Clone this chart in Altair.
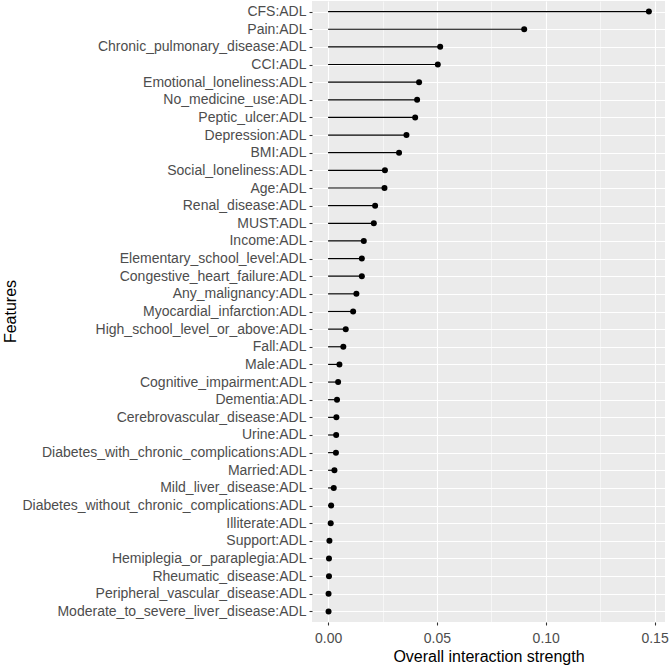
import altair as alt
import pandas as pd

features = [
    "CFS:ADL", "Pain:ADL", "Chronic_pulmonary_disease:ADL", "CCI:ADL",
    "Emotional_loneliness:ADL", "No_medicine_use:ADL", "Peptic_ulcer:ADL",
    "Depression:ADL", "BMI:ADL", "Social_loneliness:ADL", "Age:ADL",
    "Renal_disease:ADL", "MUST:ADL", "Income:ADL", "Elementary_school_level:ADL",
    "Congestive_heart_failure:ADL", "Any_malignancy:ADL", "Myocardial_infarction:ADL",
    "High_school_level_or_above:ADL", "Fall:ADL", "Male:ADL",
    "Cognitive_impairment:ADL", "Dementia:ADL", "Cerebrovascular_disease:ADL",
    "Urine:ADL", "Diabetes_with_chronic_complications:ADL", "Married:ADL",
    "Mild_liver_disease:ADL", "Diabetes_without_chronic_complications:ADL",
    "Illiterate:ADL", "Support:ADL", "Hemiplegia_or_paraplegia:ADL",
    "Rheumatic_disease:ADL", "Peripheral_vascular_disease:ADL",
    "Moderate_to_severe_liver_disease:ADL",
]
strength = [
    0.1474, 0.0901, 0.0515, 0.0504, 0.0418, 0.0409, 0.0400, 0.0360, 0.0326,
    0.0261, 0.0259, 0.0216, 0.0210, 0.0164, 0.0155, 0.0155, 0.0130, 0.0115,
    0.0081, 0.0070, 0.0052, 0.0046, 0.0041, 0.0038, 0.0037, 0.0036, 0.0029,
    0.0026, 0.0014, 0.0012, 0.0006, 0.0004, 0.0004, 0.0002, 0.0002,
]
major_ticks = [0.0, 0.05, 0.10, 0.15]
minor_ticks = [0.025, 0.075, 0.125]

df = pd.DataFrame({"Features": features, "value": strength})

FONT = "Liberation Sans"
x_scale = alt.Scale(domain=[-0.0074, 0.1548], nice=False, zero=False)
y_scale = alt.Scale(type="point", padding=0.6)

y_axis = alt.Axis(title="Features", grid=True, gridColor="white",
                  gridWidth=1.1, domain=False, tickColor="#333333",
                  tickSize=3, tickWidth=1.1, labelPadding=3,
                  labelLimit=400,
                  labelFont=FONT, labelFontSize=14,
                  labelColor="#4D4D4D", titleFont=FONT,
                  titleFontSize=16, titleFontWeight="normal",
                  titleColor="black", titleX=-302, titleY=310,
                  titleAngle=270, titleAlign="center",
                  titleBaseline="middle")

base = alt.Chart(df)

minor = base.mark_point(opacity=0).encode(
    y=alt.Y("Features:N", sort=features, scale=y_scale, axis=y_axis),
    x=alt.X("value:Q", scale=x_scale,
            axis=alt.Axis(orient="top", values=minor_ticks, labels=False,
                          ticks=False, domain=False, title=None,
                          grid=True, gridColor="white", gridWidth=0.55)),
)

stems = base.transform_calculate(zero="0").mark_rule(
    color="black", strokeWidth=1.2
).encode(
    y=alt.Y("Features:N", sort=features, scale=y_scale, axis=y_axis),
    x=alt.X("zero:Q", scale=x_scale, axis=None),
    x2="value:Q",
)

dots = base.mark_circle(color="black", size=36, opacity=1).encode(
    y=alt.Y("Features:N", sort=features, scale=y_scale, axis=y_axis),
    x=alt.X("value:Q", scale=x_scale,
            axis=alt.Axis(title="Overall interaction strength",
                          values=major_ticks, format=".2f", grid=True,
                          gridColor="white", gridWidth=1.1, domain=False,
                          tickColor="#333333", tickSize=3, tickWidth=1.1,
                          labelPadding=6, labelFont=FONT, labelFontSize=14,
                          labelColor="#4D4D4D", titleFont=FONT,
                          titleFontSize=16, titleFontWeight="normal",
                          titleColor="black", titlePadding=3)),
)

chart = alt.layer(minor, stems, dots).resolve_axis(x="independent").properties(
    width=353, height=621,
    autosize=alt.AutoSizeParams(type="none"),
    padding={"left": 312, "top": 1, "right": 4, "bottom": 44},
    background="white",
).configure_view(fill="#EBEBEB", stroke=None)

chart.save("out.html", embed_options={"renderer": "svg", "actions": False})
